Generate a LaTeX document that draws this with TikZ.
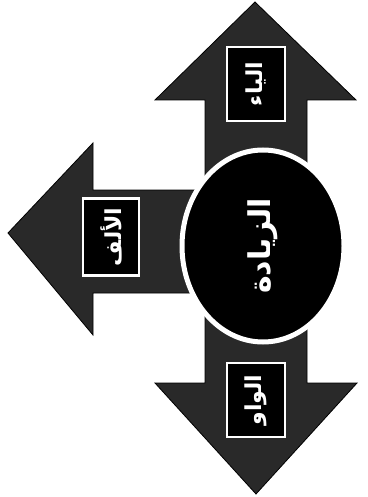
\documentclass[tikz,border=0pt]{standalone}
\usepackage{fontspec}
\newfontfamily\arabicfont[Script=Arabic]{DejaVu Sans}
\TeXXeTstate=1
\usetikzlibrary{shapes.geometric}

\begin{document}
\begin{tikzpicture}[x=1pt,y=-1pt,
    arrowbody/.style={fill=black!84,draw=black,line width=0.8pt,line join=miter},
    labelbox/.style={draw=white,line width=2.5pt,fill=black,minimum width=58pt,
                     minimum height=74pt,inner sep=0pt},
    boxtext/.style={text=white,rotate=90,inner sep=0pt,
                    font=\arabicfont\bfseries\fontsize{22}{25}\selectfont}]
  \useasboundingbox (0,0) rectangle (367,497);
  % arrow to the left
  \draw[arrowbody] (200,190) -- (93,190) -- (93,143) -- (8,233) -- (93,335)
    -- (93,293) -- (200,293) -- cycle;
  % arrow up and down
  \draw[arrowbody] (205,100) -- (155,100) -- (255,2) -- (356,100) -- (307,100)
    -- (307,383) -- (357,383) -- (256,494) -- (155,383) -- (205,383) -- cycle;
  % centre
  \node[ellipse,fill=black,draw=white,line width=5pt,minimum width=162pt,
        minimum height=192pt,inner sep=0pt] (zyada) at (263,246) {};
  \node[boxtext,font=\arabicfont\bfseries\fontsize{30}{34}\selectfont]
    (zyadatxt) at (zyada.center) {\beginR الزيادة\endR};
  % letters
  \node[labelbox] (ya) at (256,84) {};
  \node[boxtext] (yatxt) at (ya.center) {\beginR الياء\endR};
  \node[labelbox] (waw) at (256,400) {};
  \node[boxtext] (wawtxt) at (waw.center) {\beginR الواو\endR};
  \node[labelbox,minimum width=56pt,minimum height=77pt] (alif) at (111,237) {};
  \node[boxtext] (aliftxt) at (alif.center) {\beginR الألف\endR};
\end{tikzpicture}
\end{document}
